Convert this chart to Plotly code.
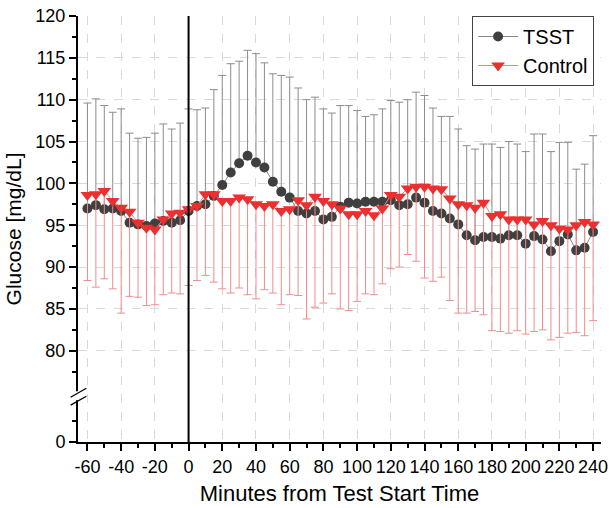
import plotly.graph_objects as go

# Time points (minutes from test start)
minutes = list(range(-60, 245, 5))

tsst_mean = [97.0, 97.4, 96.9, 97.0, 96.7, 95.3, 95.1, 94.9, 95.2, 95.5, 95.3, 95.6,
             96.7, 97.3, 97.5, 98.5, 99.8, 101.3, 102.4, 103.3, 102.5, 101.9, 100.2, 99.0,
             98.3, 96.7, 96.4, 96.7, 95.7, 96.0, 97.2, 97.7, 97.6, 97.8, 97.8, 97.8,
             98.0, 97.4, 97.5, 98.3, 97.7, 96.7, 96.4, 95.8, 95.1, 93.8, 93.2, 93.6,
             93.6, 93.4, 93.8, 93.8, 92.8, 93.7, 93.3, 91.9, 93.1, 93.9, 92.0, 92.3, 94.2]

tsst_upper = [109.6, 110.1, 109.3, 108.5, 108.9, 106.0, 105.4, 105.5, 106.0, 107.1, 106.5, 107.2,
              108.9, 108.8, 109.0, 111.2, 112.9, 114.3, 114.6, 115.9, 115.5, 114.4, 113.1, 112.9,
              112.7, 111.4, 110.0, 110.3, 108.9, 108.4, 109.3, 109.3, 108.7, 108.0, 108.2, 108.9,
              109.9, 109.7, 110.0, 110.9, 110.5, 109.0, 108.0, 108.0, 106.5, 104.5, 104.1, 104.7,
              104.7, 104.3, 105.0, 104.7, 103.8, 105.9, 105.9, 103.8, 104.9, 104.9, 101.7, 102.3, 105.7]

control_mean = [98.6, 98.7, 99.1, 97.9, 97.1, 96.6, 95.3, 94.7, 94.5, 95.7, 96.4, 96.5,
                96.9, 97.3, 98.7, 98.7, 97.9, 97.9, 98.3, 98.1, 97.5, 97.3, 97.5, 96.7,
                96.9, 98.0, 97.4, 98.4, 97.9, 97.5, 97.0, 96.3, 96.3, 96.7, 96.2, 97.0,
                98.6, 98.4, 99.4, 99.6, 99.6, 99.4, 99.3, 98.2, 97.5, 97.4, 97.1, 97.7,
                96.1, 96.3, 95.7, 95.7, 95.7, 95.1, 95.5, 95.0, 94.6, 94.5, 95.0, 95.4, 95.1]

control_lower = [88.4, 87.6, 88.6, 87.4, 84.5, 86.5, 86.4, 85.4, 85.5, 86.7, 86.9, 86.8,
                 87.8, 88.4, 89.0, 88.2, 87.4, 86.9, 87.5, 86.7, 86.2, 87.3, 86.9, 85.5,
                 86.7, 86.6, 83.8, 85.2, 85.7, 86.8, 85.0, 84.8, 85.9, 86.8, 86.7, 88.0,
                 89.8, 90.0, 91.5, 90.7, 88.7, 88.3, 88.8, 86.0, 84.5, 84.5, 84.7, 84.3,
                 82.4, 82.3, 82.1, 82.4, 82.0, 82.3, 82.5, 81.3, 81.6, 82.1, 82.2, 81.8, 83.6]

x_ticks = list(range(-60, 241, 20))
y_major = [80, 85, 90, 95, 100, 105, 110, 115, 120]
AXIS_ZERO_POS = 69.1  # position on the broken axis where "0" is drawn

tsst_err = [u - m for u, m in zip(tsst_upper, tsst_mean)]
control_err = [m - l for m, l in zip(control_mean, control_lower)]

FONT = "Arial, Liberation Sans, sans-serif"

fig = go.Figure()
fig.add_trace(go.Scatter(
    x=minutes, y=tsst_mean, name="TSST", mode="lines+markers",
    line=dict(color="#8a8a8a", width=1),
    marker=dict(symbol="circle", size=10, color="#3f3f3f"),
    error_y=dict(type="data", array=tsst_err, arrayminus=[0] * len(tsst_err),
                 symmetric=False, color="#8c8c8c", thickness=1, width=4),
))
fig.add_trace(go.Scatter(
    x=minutes, y=control_mean, name="Control", mode="lines+markers",
    line=dict(color="#f08080", width=1),
    marker=dict(symbol="triangle-down", size=12, color="#ec2f2f"),
    error_y=dict(type="data", array=[0] * len(control_err), arrayminus=control_err,
                 symmetric=False, color="#f08c8c", thickness=1, width=4),
))

L, R, T, B = 78, 6, 16, 64
W, H = 614, 508
pw, ph = W - L - R, H - T - B


def px(xp):
    return (xp - L) / pw


def py(yp):
    return (H - B - yp) / ph


shapes = [
    # vertical line at test start
    dict(type="line", xref="x", yref="paper", x0=0, x1=0, y0=0, y1=1,
         line=dict(color="black", width=2), layer="above"),
    # axis break gap
    dict(type="rect", xref="paper", yref="paper", x0=px(75), x1=px(81),
         y0=py(402), y1=py(393), fillcolor="white", line=dict(width=0), layer="above"),
    dict(type="line", xref="paper", yref="paper", x0=px(70.5), x1=px(86.5),
         y0=py(407), y1=py(398), line=dict(color="black", width=1.3), layer="above"),
    dict(type="line", xref="paper", yref="paper", x0=px(70.5), x1=px(86.5),
         y0=py(399), y1=py(390), line=dict(color="black", width=1.3), layer="above"),
]

fig.update_layout(
    width=W, height=H,
    margin=dict(l=L, r=R, t=T, b=B),
    paper_bgcolor="white", plot_bgcolor="white",
    font=dict(family=FONT, size=18, color="black"),
    showlegend=True,
    legend=dict(x=px(601), y=1.0, xanchor="right", yanchor="top",
                bgcolor="white", bordercolor="#444444", borderwidth=1,
                font=dict(size=20, family=FONT), tracegroupgap=0,
                itemwidth=40),
    shapes=shapes,
    xaxis=dict(
        range=[-65.6, 244.7], tickmode="array", tickvals=x_ticks,
        ticktext=[str(v) for v in x_ticks],
        ticks="outside", ticklen=7, tickwidth=1.5, tickcolor="black",
        ticklabeloverflow="allow",
        showline=True, linecolor="black", linewidth=2,
        showgrid=True, gridcolor="#d9d9d9", griddash="dash", gridwidth=1,
        zeroline=False,
        minor=dict(tickvals=list(range(-50, 241, 20)), ticks="outside", ticklen=4,
                   tickwidth=1.5, tickcolor="black", showgrid=False),
        title=dict(text="Minutes from Test Start Time", font=dict(size=22, family=FONT),
                   standoff=10),
        tickfont=dict(size=18, family=FONT),
    ),
    yaxis=dict(
        range=[AXIS_ZERO_POS, 120], tickmode="array",
        tickvals=[AXIS_ZERO_POS] + y_major,
        ticktext=["0"] + [str(v) for v in y_major],
        ticks="outside", ticklen=7, tickwidth=1.5, tickcolor="black",
        ticklabeloverflow="allow",
        showline=True, linecolor="black", linewidth=2,
        showgrid=True, gridcolor="#d9d9d9", griddash="dash", gridwidth=1,
        zeroline=False,
        minor=dict(tickvals=[AXIS_ZERO_POS + 2.5, 77.5] + [v + 2.5 for v in y_major[:-1]],
                   ticks="outside", ticklen=4, tickwidth=1.5, tickcolor="black",
                   showgrid=False),
        title=dict(text="Glucose [mg/dL]", font=dict(size=21, family=FONT), standoff=8),
        tickfont=dict(size=18, family=FONT),
    ),
)

fig.write_html("out.html")
